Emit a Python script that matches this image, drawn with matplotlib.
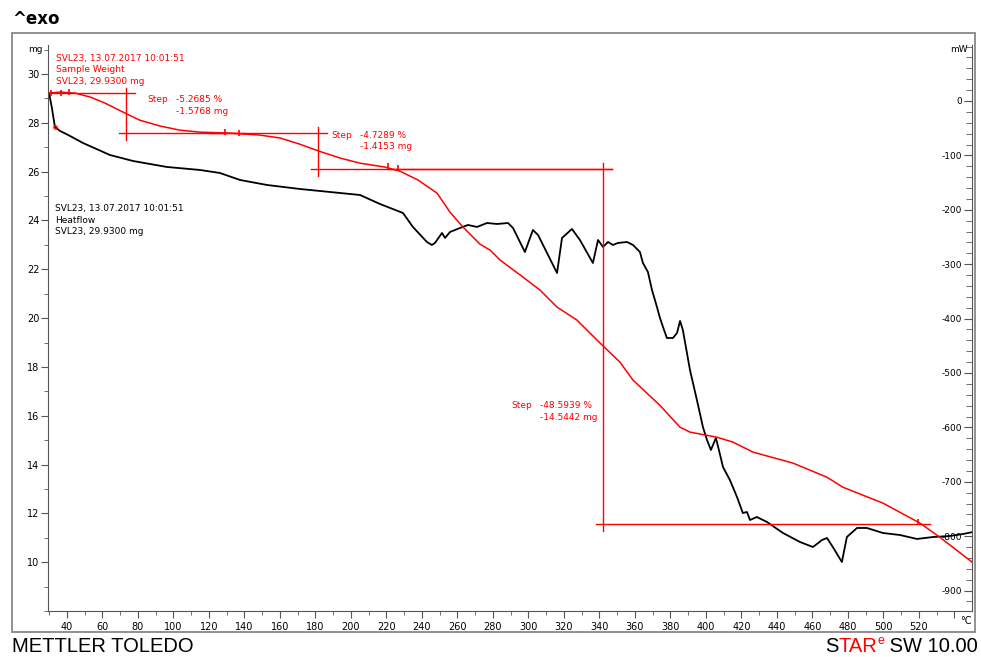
import matplotlib
matplotlib.use('Agg')
import matplotlib.pyplot as plt
from matplotlib.patches import Rectangle
from matplotlib.ticker import MultipleLocator

plt.rcParams['axes.unicode_minus'] = False
plt.rcParams['font.family'] = ['DejaVu Sans']

# sample weight (TGA), red curve, left axis
tg_temp = [29.3, 36, 44.5, 53, 61.4, 72.7, 81, 92.4, 103.7, 115, 131.8, 148.7,
           160, 171, 182, 193.8, 205, 219, 227.6, 237.7, 248.5, 255.8, 263.1,
           272.7, 278.3, 284, 296.9, 306.5, 316.1, 327.3, 340.3, 351.5, 358.9,
           374, 385.4, 391, 406.2, 415.2, 426.5, 449, 468.2, 477.2, 499.7,
           520.6, 531.8, 550]
tg_mass = [29.22, 29.26, 29.22, 29.06, 28.81, 28.40, 28.11, 27.87, 27.70, 27.62,
           27.58, 27.50, 27.38, 27.13, 26.84, 26.56, 26.35, 26.19, 26.02, 25.66,
           25.12, 24.34, 23.73, 23.03, 22.79, 22.38, 21.68, 21.15, 20.45, 19.92,
           18.98, 18.2, 17.46, 16.43, 15.53, 15.33, 15.12, 14.92, 14.51, 14.06,
           13.48, 13.07, 12.42, 11.6, 11.02, 10.0]

# heat flow (DSC), black curve, right axis
hf_temp = [29.9, 31.5, 33.2, 36.1, 41.7, 49.0, 64.2, 77.2, 96.3, 114.9, 126.2,
           137.5, 152.7, 171.3, 188.2, 205.1, 216.3, 229.3, 234.9, 242.8, 245.6,
           247.3, 251.3, 253.0, 255.8, 261.4, 265.9, 271.0, 276.6, 282.3, 288.5,
           291.3, 298.0, 302.5, 305.4, 316.1, 318.9, 324.5, 329.0, 336.3, 339.2,
           342.0, 344.8, 347.6, 350.4, 355.5, 358.9, 362.8, 364.5, 367.3, 369.6,
           372.4, 374.1, 375.8, 378.0, 381.4, 383.7, 385.4, 387.0, 391.0, 394.9,
           398.3, 400.6, 402.8, 405.6, 407.3, 409.6, 413.5, 417.5, 420.8, 423.1,
           424.8, 428.7, 434.4, 443.4, 453.0, 460.3, 465.4, 468.2, 471.5, 476.6,
           479.4, 485.1, 490.7, 499.7, 509.3, 518.9, 527.9, 537.5, 544.8, 550.4]
hf_mw = [14.7, -12.9, -47.8, -55.1, -64.3, -77.2, -99.3, -110.3, -121.3, -126.8,
         -132.4, -145.2, -154.4, -161.8, -167.3, -172.8, -189.3, -205.9, -231.6,
         -259.2, -264.7, -261.0, -242.6, -251.8, -240.8, -233.5, -227.9, -231.6,
         -224.3, -226.1, -224.3, -233.5, -277.6, -237.1, -246.3, -316.2, -251.8,
         -235.3, -255.5, -297.8, -255.5, -268.4, -259.2, -264.7, -261.0, -259.2,
         -264.7, -277.6, -297.8, -314.3, -347.4, -378.7, -398.9, -415.4, -435.7,
         -435.7, -426.5, -404.4, -421.0, -494.5, -549.6, -599.3, -623.2, -641.5,
         -619.5, -641.5, -672.8, -696.7, -728.0, -757.4, -755.5, -770.2, -764.7,
         -773.9, -794.1, -810.7, -819.9, -807.0, -803.3, -819.9, -847.4, -801.5,
         -784.9, -784.9, -794.1, -797.8, -805.1, -801.5, -799.6, -796.0, -792.3]

# step evaluations
step_temp = [73.2, 181.4, 342.0]
step_upper = [29.22, 27.60, 26.12]
step_lower = [27.60, 26.12, 11.57]
step_start = [29.3, 120.0, 222.0]
step_end = [140.0, 347.0, 526.2]
step_pct = ['-5.2685 %', '-4.7289 %', '-48.5939 %']
step_mg = ['-1.5768 mg', '-1.4153 mg', '-14.5442 mg']
limit_temp = [31.0, 36.5, 41.0, 129.0, 136.9, 220.8, 226.5, 519.4]
limit_mass = [29.22, 29.24, 29.26, 27.62, 27.60, 26.22, 26.16, 11.64]

xticks = list(range(40, 541, 20))
xlabels = [str(t) for t in range(40, 521, 20)] + ['']

W, H = 981, 657
RED = '#ff0000'


def px(x, y):
    return x / W, 1 - y / H


fig = plt.figure(figsize=(W / 100, H / 100), dpi=100)
ax = fig.add_axes([48 / W, 46 / H, 924 / W, 566 / H])
ax2 = ax.twinx()
ax.set_zorder(ax2.get_zorder() + 1)
ax.patch.set_visible(False)

ax2.plot(hf_temp, hf_mw, color='black', lw=1.3)
ax.plot(tg_temp, tg_mass, color=RED, lw=1.1)

for i in range(len(step_temp)):
    ax.plot([step_start[i], step_temp[i] + 5], [step_upper[i]] * 2, color=RED, lw=1)
    ax.plot([step_temp[i] - 4, step_end[i]], [step_lower[i]] * 2, color=RED, lw=1)
    ax.plot([step_temp[i]] * 2, [step_upper[i] + 0.22, step_lower[i] - 0.3],
            color=RED, lw=1)
ax.plot(limit_temp, limit_mass, ls='none', marker='|', ms=5, mew=1.2, color=RED)
ax.plot([33.5], [27.85], ls='none', marker='o', ms=2.5, mfc='none', mec=RED, mew=0.8)

ax.set_xlim(29.3, 549.9)
ax.set_ylim(8.0, 31.19)
ax2.set_ylim(-937.5, 102.9)

for s in ['top', 'right']:
    ax.spines[s].set_visible(False)
for s in ['top', 'left', 'bottom']:
    ax2.spines[s].set_visible(False)
for s in ['left', 'bottom']:
    ax.spines[s].set_color('#555555')
ax2.spines['right'].set_color('#555555')

ax.set_xticks(xticks)
ax.set_xticklabels(xlabels, family=['Liberation Sans Narrow', 'DejaVu Sans'], fontsize=7)
ax.xaxis.set_minor_locator(MultipleLocator(10))
ax.set_yticks(range(10, 31, 2))
ax.yaxis.set_minor_locator(MultipleLocator(1))
ax.tick_params(axis='x', which='major', length=5, pad=3, color='#555555')
ax.tick_params(axis='x', which='minor', length=3, color='#555555')
ax.tick_params(axis='y', which='major', length=5, pad=1, labelsize=7, color='#555555')
ax.tick_params(axis='y', which='minor', length=3, color='#555555')

ax2.set_yticks(range(-900, 1, 100))
ax2.yaxis.set_minor_locator(MultipleLocator(20))
ax2.tick_params(axis='y', which='major', direction='in', length=6, pad=-7,
                labelsize=6.5, color='#555555')
ax2.tick_params(axis='y', which='minor', direction='in', length=4, color='#555555')
plt.setp(ax2.get_yticklabels(), ha='right')

# texts
fs = 6.5
fig.text(*px(28, 50), 'mg', fontsize=fs, va='center')
fig.text(*px(950, 50), 'mW', fontsize=fs, va='center')
fig.text(*px(960, 621), '°C', fontsize=7, va='center',
         family=['Liberation Sans Narrow', 'DejaVu Sans'])
for j, s in enumerate(['SVL23, 13.07.2017 10:01:51', 'Sample Weight', 'SVL23, 29.9300 mg']):
    fig.text(*px(56, 58 + j * 11.5), s, fontsize=fs, color=RED, va='center')
for j, s in enumerate(['SVL23, 13.07.2017 10:01:51', 'Heatflow', 'SVL23, 29.9300 mg']):
    fig.text(*px(55, 209 + j * 11.5), s, fontsize=fs, color='black', va='center')
for (sx, sy), p, m in zip([(147, 100), (331, 136), (511, 406)], step_pct, step_mg):
    fig.text(*px(sx, sy), 'Step', fontsize=fs, color=RED, va='center')
    fig.text(*px(sx + 29, sy), p, fontsize=fs, color=RED, va='center')
    fig.text(*px(sx + 29, sy + 11), m, fontsize=fs, color=RED, va='center')

fig.text(*px(12, 19), '^exo', fontsize=12, fontweight='bold', va='center')
fig.add_artist(Rectangle(px(12, 632), 963 / W, 599 / H, transform=fig.transFigure,
                         fill=False, ec='#888888', lw=1.3))
fig.text(*px(12, 647), 'METTLER TOLEDO', fontsize=14.5, va='center',
         family=['Liberation Sans Narrow', 'Liberation Sans'])

# STARe SW 10.00 logo text, placed piece by piece from the right edge
renderer = fig.canvas.get_renderer()
x0 = 978
for txt, col, sup in reversed([('S', 'black', False), ('TAR', RED, False),
                               ('e', RED, True), (' SW 10.00', 'black', False)]):
    t = fig.text(*px(x0, 647 - (6 if sup else 0)), txt, color=col, ha='right',
                 fontsize=9 if sup else 14.5, va='center', family='Liberation Sans')
    bb = t.get_window_extent(renderer)
    x0 -= bb.width

fig.savefig('out.png', dpi=100)
